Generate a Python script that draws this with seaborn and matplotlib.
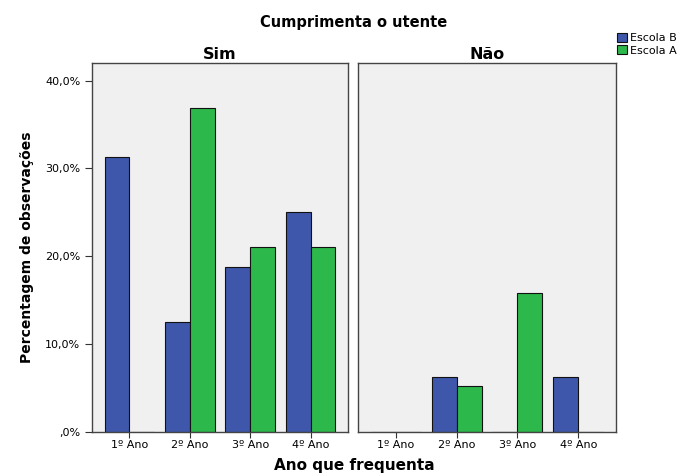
import matplotlib
matplotlib.use("Agg")
import matplotlib.pyplot as plt
import seaborn as sns
import pandas as pd
from matplotlib.patches import Patch
from matplotlib.ticker import FuncFormatter

# data
anos = ["1º Ano", "2º Ano", "3º Ano", "4º Ano"]
escolas = ["Escola B", "Escola A"]
sim_escola_b = [31.25, 12.5, 18.75, 25.0]
sim_escola_a = [0.0, 36.84, 21.05, 21.05]
nao_escola_b = [0.0, 6.25, 0.0, 6.25]
nao_escola_a = [0.0, 5.26, 15.79, 0.0]

rows = []
for painel, b_vals, a_vals in [("Sim", sim_escola_b, sim_escola_a),
                               ("Não", nao_escola_b, nao_escola_a)]:
    for ano, b, a in zip(anos, b_vals, a_vals):
        rows.append({"painel": painel, "ano": ano, "escola": "Escola B", "pct": b})
        rows.append({"painel": painel, "ano": ano, "escola": "Escola A", "pct": a})
df = pd.DataFrame(rows)

cores = {"Escola B": "#3f57ab", "Escola A": "#2db84b"}

sns.set_style("white")
plt.rcParams["font.family"] = ["DejaVu Sans"]
plt.rcParams["text.color"] = "black"
plt.rcParams["axes.labelcolor"] = "black"
plt.rcParams["xtick.color"] = "black"
plt.rcParams["ytick.color"] = "black"

fig = plt.figure(figsize=(6.92, 4.73), dpi=100)
W, H = 692, 473
ax1 = fig.add_axes([92 / W, (H - 432) / H, 256 / W, (432 - 63) / H])
ax2 = fig.add_axes([358 / W, (H - 432) / H, 258 / W, (432 - 63) / H])

fmt = FuncFormatter(lambda v, p: ",0%" if v == 0 else f"{v:.1f}%".replace(".", ","))

for ax, painel in [(ax1, "Sim"), (ax2, "Não")]:
    sub = df[df["painel"] == painel]
    sns.barplot(data=sub, x="ano", y="pct", hue="escola", order=anos,
                hue_order=escolas, palette=cores, width=0.82,
                edgecolor="#111111", linewidth=0.8, saturation=1, ax=ax)
    ax.get_legend().remove()
    ax.set_facecolor("#f0f0f0")
    ax.set_ylim(0, 42)
    ax.set_xlim(-0.62, 3.62)
    ax.set_xlabel("")
    ax.set_ylabel("")
    ax.set_yticks([0, 10, 20, 30, 40])
    ax.yaxis.set_major_formatter(fmt)
    ax.tick_params(axis="x", length=4, width=0.8, labelsize=8, pad=2,
                   bottom=True, color="#333333")
    ax.tick_params(axis="y", length=5, width=0.8, labelsize=8, left=True,
                   color="#333333")
    for s in ax.spines.values():
        s.set_color("#444444")
        s.set_linewidth(1.0)
    ax.set_title(painel, fontsize=11.5, fontweight="bold", pad=3)

ax2.set_yticklabels([])
ax2.tick_params(axis="y", left=False)

ax1.set_ylabel("Percentagem de observações", fontsize=10, fontweight="bold",
               labelpad=8)
fig.text(354 / W, 1 - 465 / H, "Ano que frequenta", ha="center", va="center",
         fontsize=11, fontweight="bold")
fig.text(354 / W, 1 - 22 / H, "Cumprimenta o utente", ha="center", va="center",
         fontsize=10.5, fontweight="bold")

handles = [Patch(facecolor=cores[e], edgecolor="#111111", linewidth=0.8, label=e)
           for e in escolas]
fig.legend(handles=handles, loc="upper left", bbox_to_anchor=(617 / W, 1 - 33 / H),
           frameon=False, fontsize=8, handlelength=0.9, handleheight=0.9,
           handletextpad=0.3, labelspacing=0.15, borderpad=0, borderaxespad=0)

fig.savefig("out.png", dpi=100)
